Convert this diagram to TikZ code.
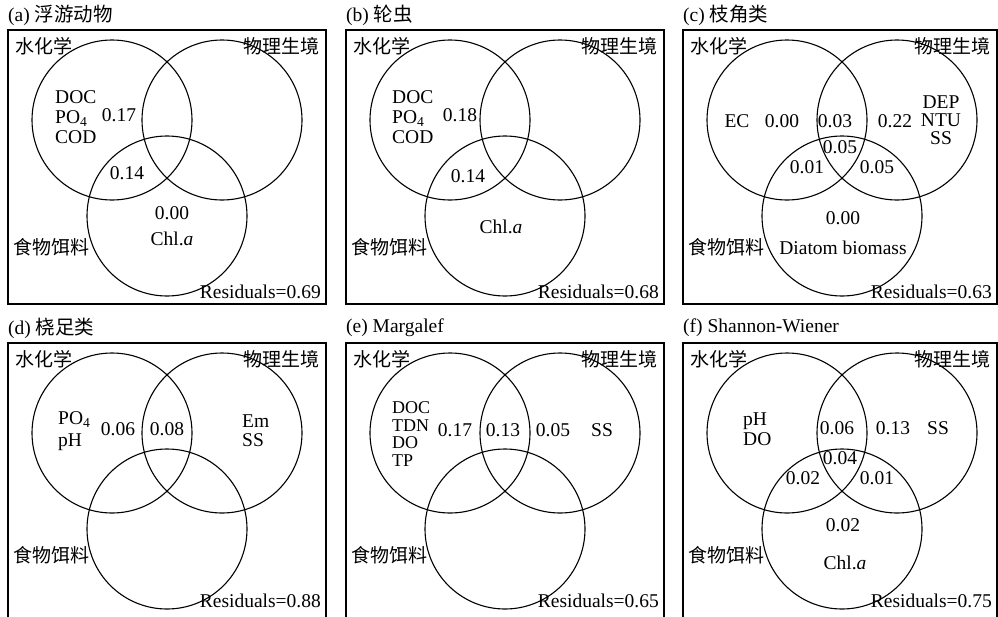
\documentclass[tikz,border=0pt]{standalone}
\usepackage{fontspec}
\setmainfont{Liberation Serif}
\newfontfamily\cjk{Noto Sans CJK SC}
\tikzset{
  lbl/.style={inner sep=0pt, font=\fontsize{19.5}{20}\selectfont},
  zh/.style={inner sep=0pt, font=\fontsize{19}{20}\selectfont\cjk},
  stack/.style={inner sep=0pt, align=#1},
  ring/.style={line width=1.1pt},
  frame/.style={line width=1.1pt},
}
% #1 prefix, #2 width, #3 residual, #4 y of residual, #5 y of food label, #6 bottom (1 closed, 0 open)
\newcommand\vennbase[6]{%
  \ifnum#6=1
    \draw[frame] (0,0) rectangle (#2,274);
  \else
    \draw[frame] (0,280) -- (0,0) -- (#2,0) -- (#2,280);
  \fi
  \draw[ring] (104,90) circle[radius=80pt];
  \draw[ring] (214,90) circle[radius=80pt];
  \draw[ring] (159,186) circle[radius=80pt];
  \node[zh,anchor=west] (#1-hx) at (7,16) {水化学};
  \node[zh,anchor=east] (#1-wl) at ({#2-6},16) {物理生境};
  \node[zh,anchor=west] (#1-sw) at (5,#5) {食物饵料};
  \node[lbl,anchor=east] (#1-res) at ({#2-5},#4) {Residuals=#3};
}
\begin{document}
\begin{tikzpicture}[x=1pt,y=-1pt]
\useasboundingbox (0,0) rectangle (998,616);

% titles
\node[lbl,anchor=west] (ta) at (8,15) {(a) {\cjk 浮游动物}};
\node[lbl,anchor=west] (tb) at (346,15) {(b) {\cjk 轮虫}};
\node[lbl,anchor=west] (tc) at (683,15) {(c) {\cjk 枝角类}};
\node[lbl,anchor=west] (td) at (8,328) {(d) {\cjk 桡足类}};
\node[lbl,anchor=west] (te) at (346,328) {(e) Margalef};
\node[lbl,anchor=west] (tf) at (683,328) {(f) Shannon-Wiener};

% (a)
\begin{scope}[shift={(8,30)}]
  \vennbase{a}{318}{0.69}{262}{217}{1}
  \node[lbl,stack=left,anchor=west,font=\fontsize{19.5}{20}\selectfont] (a-v) at (47,87) {DOC\\PO\textsubscript{4}\\COD};
  \node[lbl] (a-1) at (111,85) {0.17};
  \node[lbl] (a-2) at (119,143) {0.14};
  \node[lbl] (a-3) at (164,183) {0.00};
  \node[lbl] (a-4) at (164,209) {Chl.\textit{a}};
\end{scope}

% (b)
\begin{scope}[shift={(346,30)}]
  \vennbase{b}{318}{0.68}{262}{217}{1}
  \node[lbl,stack=left,anchor=west,font=\fontsize{19.5}{20}\selectfont] (b-v) at (46,87) {DOC\\PO\textsubscript{4}\\COD};
  \node[lbl] (b-1) at (114,85) {0.18};
  \node[lbl] (b-2) at (122,146) {0.14};
  \node[lbl] (b-4) at (155,197) {Chl.\textit{a}};
\end{scope}

% (c)
\begin{scope}[shift={(683,30)}]
  \vennbase{c}{314}{0.63}{262}{217}{1}
  \node[lbl] (c-ec) at (54,91) {EC};
  \node[lbl] (c-1) at (99,91) {0.00};
  \node[lbl] (c-2) at (152,91) {0.03};
  \node[lbl] (c-3) at (212,91) {0.22};
  \node[lbl,stack=center,font=\fontsize{19.5}{18}\selectfont] (c-v) at (258,90) {DEP\\NTU\\SS};
  \node[lbl] (c-4) at (157,117) {0.05};
  \node[lbl] (c-5) at (124,137) {0.01};
  \node[lbl] (c-6) at (194,137) {0.05};
  \node[lbl] (c-7) at (160,188) {0.00};
  \node[lbl] (c-8) at (160,218) {Diatom biomass};
\end{scope}

% (d)
\begin{scope}[shift={(8,343)}]
  \vennbase{d}{318}{0.88}{258}{212}{0}
  \node[lbl,stack=left,anchor=west,font=\fontsize{19.5}{22}\selectfont] (d-v) at (50,88) {PO\textsubscript{4}\\pH};
  \node[lbl] (d-1) at (110,86) {0.06};
  \node[lbl] (d-2) at (159,86) {0.08};
  \node[lbl,stack=left,anchor=west,font=\fontsize{19.5}{19}\selectfont] (d-w) at (234,88) {Em\\SS};
\end{scope}

% (e)
\begin{scope}[shift={(346,343)}]
  \vennbase{e}{318}{0.65}{258}{212}{0}
  \node[lbl,stack=left,anchor=west,font=\fontsize{18}{17.5}\selectfont] (e-v) at (46,91) {DOC\\TDN\\DO\\TP};
  \node[lbl] (e-1) at (109,87) {0.17};
  \node[lbl] (e-2) at (157,87) {0.13};
  \node[lbl] (e-3) at (207,87) {0.05};
  \node[lbl] (e-4) at (256,87) {SS};
\end{scope}

% (f)
\begin{scope}[shift={(683,343)}]
  \vennbase{f}{314}{0.75}{258}{212}{0}
  \node[lbl,stack=left,anchor=west,font=\fontsize{19.5}{20}\selectfont] (f-v) at (60,86) {pH\\DO};
  \node[lbl] (f-1) at (154,85) {0.06};
  \node[lbl] (f-2) at (210,85) {0.13};
  \node[lbl] (f-3) at (255,85) {SS};
  \node[lbl] (f-4) at (157,115) {0.04};
  \node[lbl] (f-5) at (120,135) {0.02};
  \node[lbl] (f-6) at (194,135) {0.01};
  \node[lbl] (f-7) at (160,182) {0.02};
  \node[lbl] (f-8) at (162,220) {Chl.\textit{a}};
\end{scope}
\end{tikzpicture}
\end{document}
